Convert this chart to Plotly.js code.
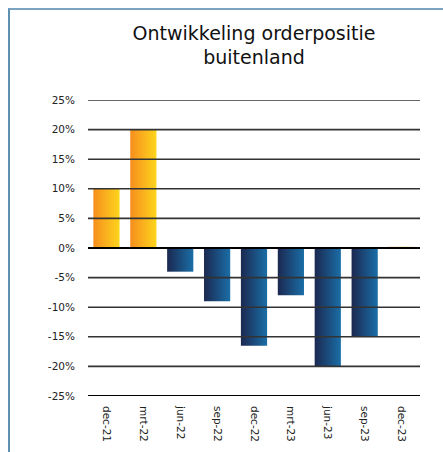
<!DOCTYPE html>
<html>
<head>
<meta charset="utf-8">
<script src="https://cdn.plot.ly/plotly-3.0.1.min.js"></script>
<style>
  html, body { margin: 0; padding: 0; background: #fff; }
  #chart { width: 443px; height: 452px; }
  #frame { position: absolute; left: 8px; top: 8px; right: 0; bottom: 0;
           border-left: 2px solid #5f8fb2; border-top: 2px solid #7aa3bf;
           pointer-events: none; }
</style>
</head>
<body>
<div id="chart"></div>
<div id="frame"></div>
<script>
var categories = ["dec-21", "mrt-22", "jun-22", "sep-22", "dec-22", "mrt-23", "jun-23", "sep-23", "dec-23"];
var values = [10, 20, -4, -9, -16.5, -8, -20, -15, 0.2];
var yTicks = [-25, -20, -15, -10, -5, 0, 5, 10, 15, 20, 25];
var titleText = "Ontwikkeling orderpositie<br>buitenland";

var posColor = "#f9a81f", negColor = "#1b4d80";

var trace = {
  type: "bar",
  x: categories,
  y: values,
  marker: { color: values.map(function (v) { return v >= 0 ? posColor : negColor; }), line: { width: 0 } },
  hoverinfo: "none"
};

var gridShapes = yTicks.map(function (t) {
  return {
    type: "line", xref: "paper", yref: "y", x0: 0, x1: 1, y0: t, y1: t,
    layer: "above",
    line: { color: (t === 0 || t === -25) ? "#000" : "#333", width: (t === 0 || t === -25) ? 2 : 1.6 }
  };
});

var layout = {
  width: 443, height: 452,
  margin: { l: 88, r: 23, t: 100, b: 56 },
  paper_bgcolor: "#fff", plot_bgcolor: "#fff",
  font: { family: "DejaVu Sans, Verdana, sans-serif", color: "#222" },
  title: {
    text: titleText,
    font: { family: "DejaVu Sans, Verdana, sans-serif", size: 19, color: "#111" },
    x: 0.5, xref: "paper", xanchor: "center",
    y: 0.912, yref: "container", yanchor: "top"
  },
  bargap: 0.29,
  showlegend: false,
  xaxis: {
    type: "category",
    tickangle: 90,
    tickfont: { size: 10.5, color: "#222" },
    showgrid: false, showline: false, zeroline: false,
    ticks: "", ticklabelstandoff: 9,
    fixedrange: true
  },
  yaxis: {
    range: [-25, 25],
    tickvals: yTicks,
    ticktext: yTicks.map(function (t) { return t + "%"; }),
    tickfont: { size: 10.5, color: "#222" },
    showgrid: false, zeroline: false, showline: false,
    ticks: "", ticklabelstandoff: 12,
    fixedrange: true
  },
  shapes: gridShapes
};

Plotly.newPlot("chart", [trace], layout, { displayModeBar: false, staticPlot: true }).then(function (gd) {
  var svg = gd.querySelector("svg.main-svg");
  var ns = "http://www.w3.org/2000/svg";
  var defs = svg.querySelector("defs") || svg.insertBefore(document.createElementNS(ns, "defs"), svg.firstChild);
  function grad(id, c1, c2) {
    var g = document.createElementNS(ns, "linearGradient");
    g.setAttribute("id", id);
    g.setAttribute("x1", "0"); g.setAttribute("y1", "0");
    g.setAttribute("x2", "1"); g.setAttribute("y2", "0");
    [[0, c1], [1, c2]].forEach(function (s) {
      var st = document.createElementNS(ns, "stop");
      st.setAttribute("offset", s[0]);
      st.setAttribute("stop-color", s[1]);
      g.appendChild(st);
    });
    defs.appendChild(g);
  }
  grad("gradPos", "#f68e1e", "#fdd51c");
  grad("gradNeg", "#1b2850", "#1a6ea7");
  var paths = gd.querySelectorAll(".trace.bars .point path");
  paths.forEach(function (p, i) {
    p.style.fill = values[i] >= 0 ? "url(#gradPos)" : "url(#gradNeg)";
  });
});
</script>
</body>
</html>
